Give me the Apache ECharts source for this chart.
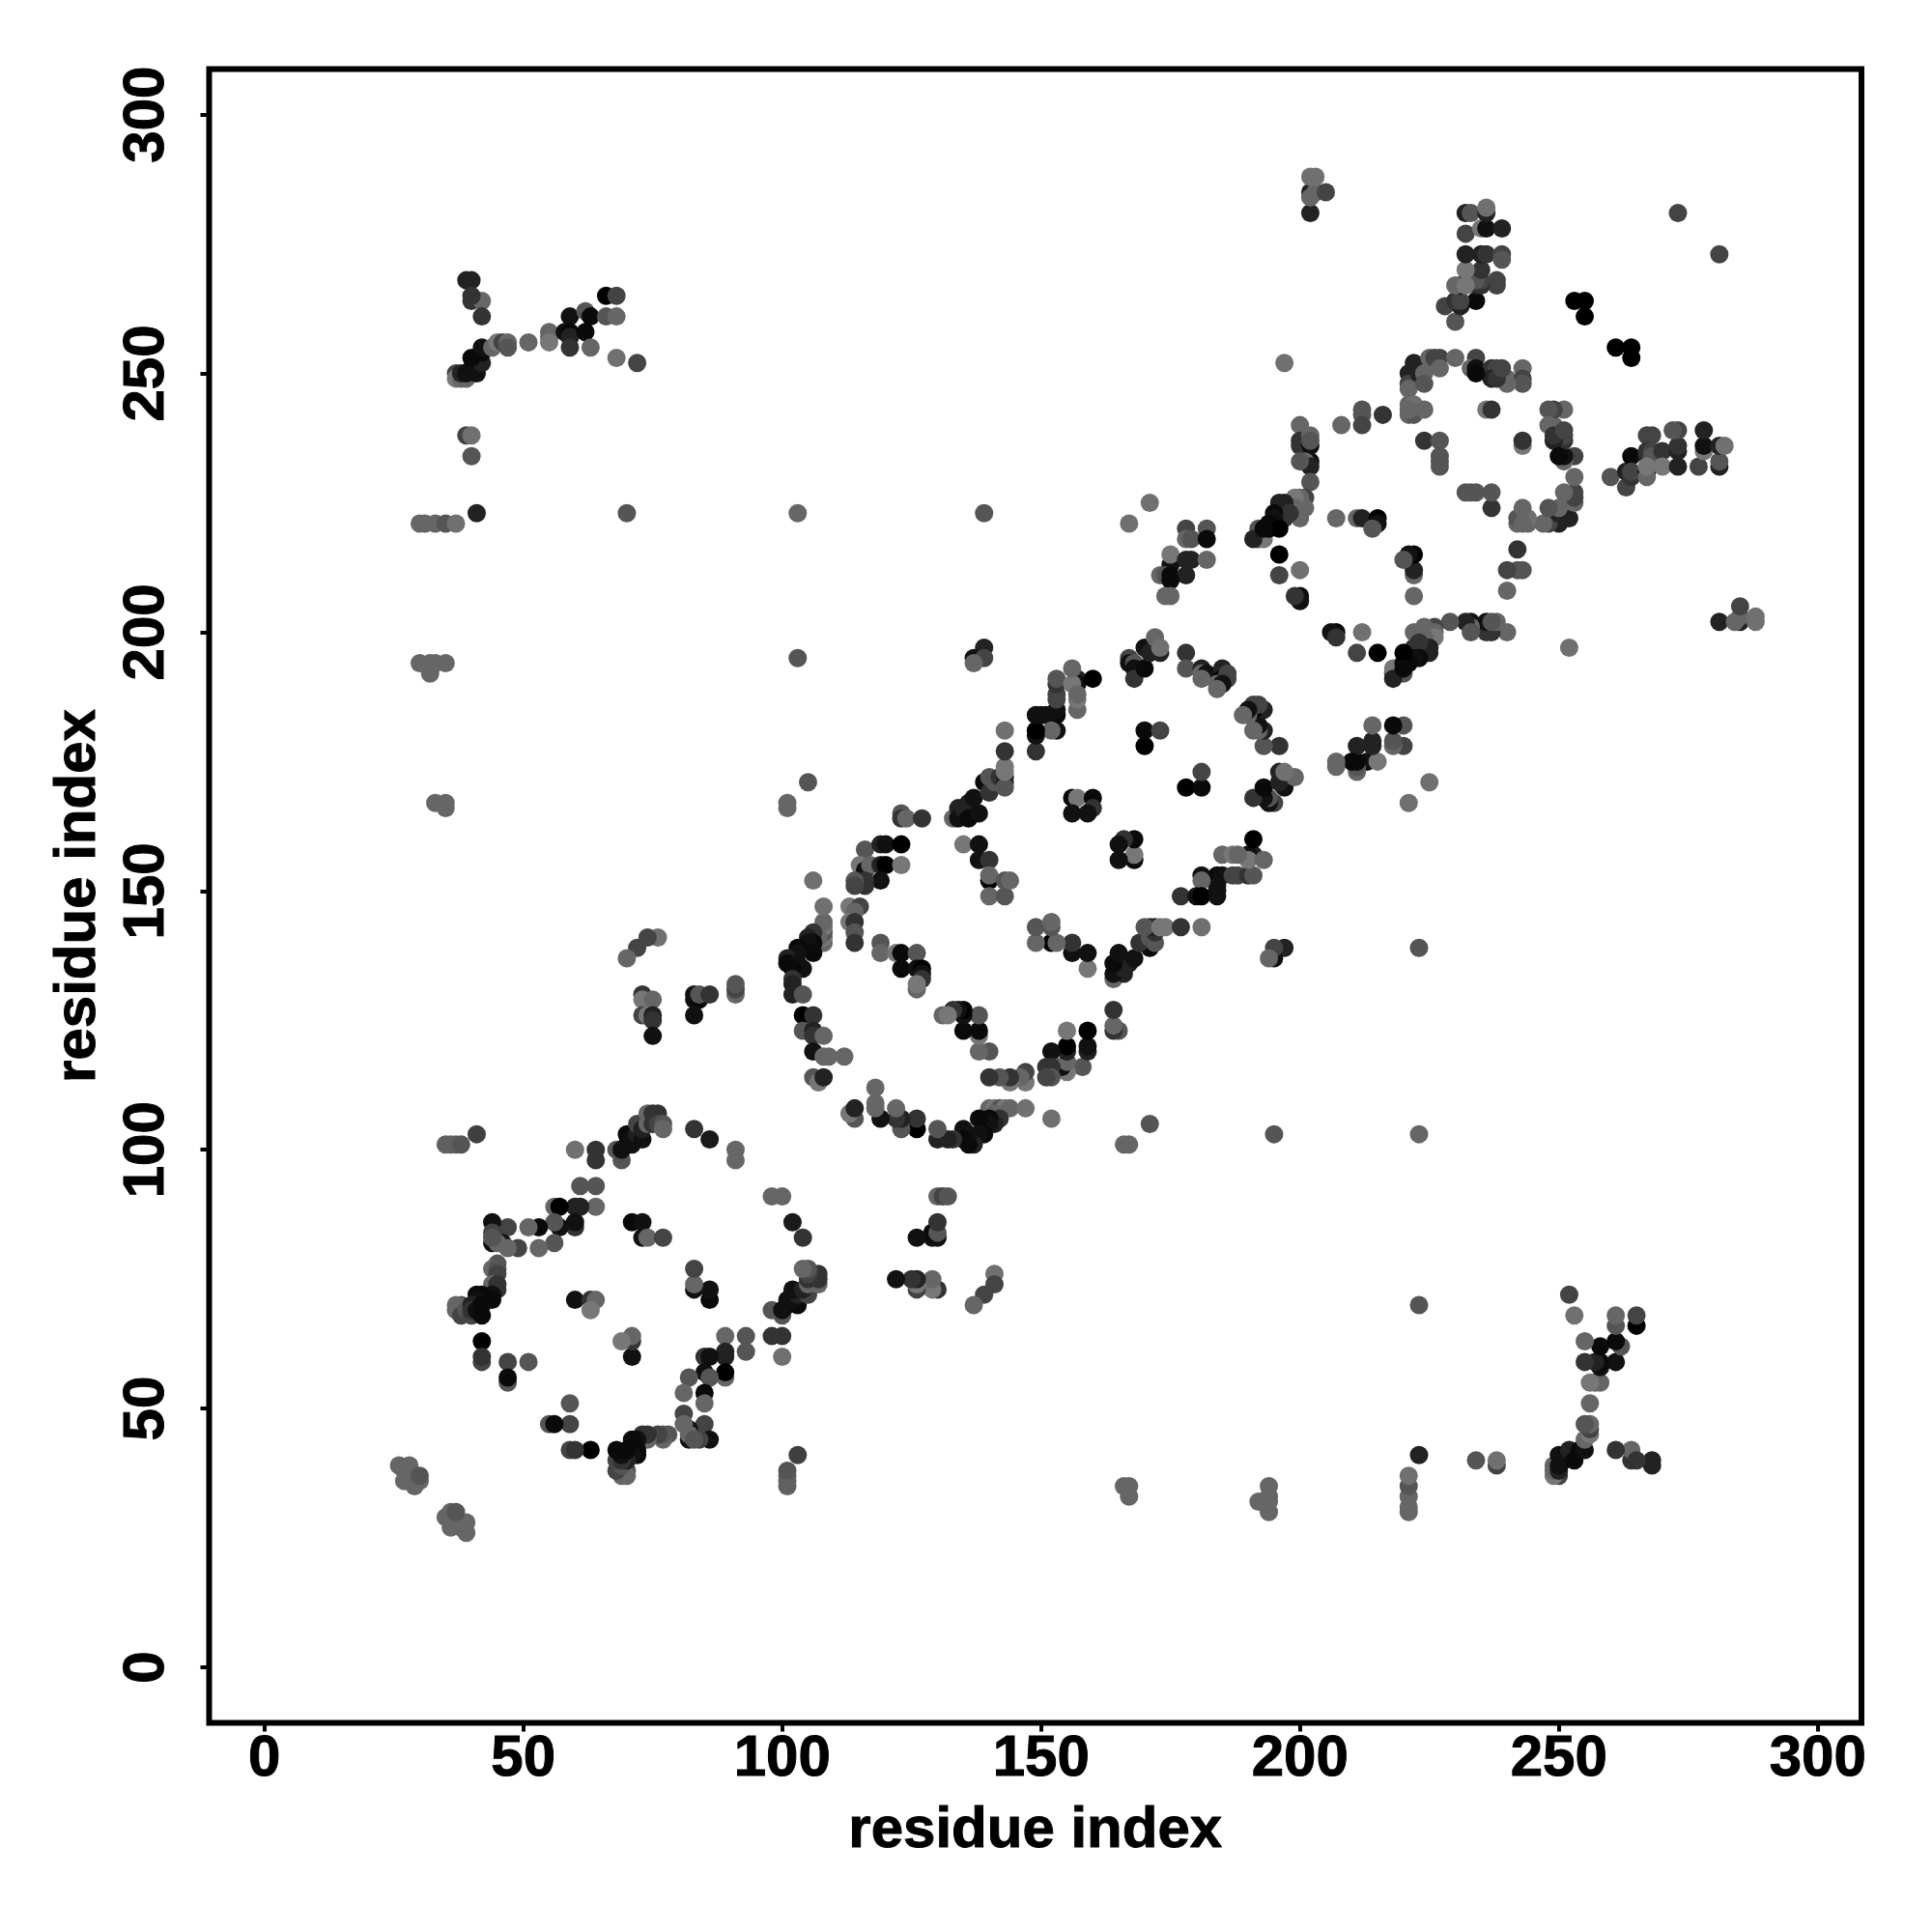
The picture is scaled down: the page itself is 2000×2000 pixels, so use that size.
<!DOCTYPE html>
<html>
<head>
<meta charset="utf-8">
<style>html,body{margin:0;padding:0;background:#fff}#c{width:2000px;height:2000px}</style>
<script src="https://cdn.jsdelivr.net/npm/echarts@6/dist/echarts.min.js"></script>
</head>
<body>
<div id="c"></div>
<script>
// Each contact: residue i, residue j, grey level (0 = black). The map is symmetric.
const tickLabels = [0, 50, 100, 150, 200, 250, 300];
const axisTitle = "residue index";

const cornerContacts = [
[26,39,102],[28,39,102],[27,36,102],[27,38,102],[28,38,102],[28,36,102],[29,35,102],[29,36,102],[30,36,102],[30,37,85]
];
const farContacts = [
[41,103,64],[35,101,96],[36,101,96],[37,101,96],[38,101,85],
[103,195,85],[103,223,102],[139,223,85],[70,223,85],[41,223,34],
[30,221,102],[31,221,102],[33,221,102],[35,221,85],[37,221,112],
[30,194,102],[32,194,102],[33,194,102],[35,194,102],[32,192,102],
[33,167,102],[35,167,102],[35,166,102],[101,166,102],[101,167,102],[105,171,85],[106,152,112],
[171,225,112],[167,221,112],[197,252,112]
];
const armTopLeft = [
[39,268,34],[40,268,34],[40,264,51],[42,264,102],[42,261,51],[40,265,51],
[37,250,68],[37,249,119],[38,249,102],[39,249,102],[38,250,34],[39,250,17],[41,250,17],[40,251,17],
[42,252,34],[40,253,10],[42,254,10],[42,255,17],[44,255,102],[45,256,119],[46,256,68],[47,256,102],[47,255,85],
[51,256,102],[55,258,102],[55,257,102],[55,256,119],[59,261,17],[58,258,17],[59,258,10],[59,257,34],[59,255,51],
[62,262,85],[63,261,10],[62,258,10],[63,255,102],[66,265,0],[68,265,68],[66,261,85],[68,261,102],[68,253,112],[72,252,68],
[39,238,68],[40,238,112],[40,234,85]
];
const ringOne = [
[83,104,51],[86,102,26],[91,100,102],[91,98,102],[64,100,51],[64,98,51],[60,100,112],
[69,98,85],[68,100,85],[69,100,17],[70,101,17],[70,103,10],[71,101,17],[71,102,17],[72,103,34],[73,102,17],
[72,105,68],[73,104,34],[74,105,102],[74,107,102],[75,107,51],[76,107,51],[75,105,51],[76,105,68],[77,105,85],[77,104,102],
[61,93,85],[64,93,85],[64,89,102],[60,89,34],[61,89,34],[56,89,102],[57,89,0],[60,85,51],[60,86,17],[57,85,17],
[56,86,85],[56,82,85],[53,81,102],[53,85,10],[51,85,102],[49,81,68],[47,85,68],[44,86,17],[44,84,68],[44,82,17],
[46,82,17],[45,82,102],[44,83,85],[47,81,102],
[45,78,85],[44,77,102],[45,77,85],[45,76,68],[44,74,102],[45,74,51],[45,73,51],[44,72,17],[41,72,10],[42,72,10],
[43,71,10],[44,71,10],[41,71,17],[38,70,85],[37,70,102],[37,69,102],[38,68,68],[39,69,85],[40,68,68],[40,70,34],[40,69,51],[41,69,17],[42,70,10],[42,68,10],
[42,63,0],[42,59,68],[42,60,51],[47,59,68],[51,59,85],[47,55,85],[47,56,10],
[71,86,10],[73,86,17],[73,83,17],[74,83,102],[77,83,68],[60,71,17],[63,71,51],[64,71,102],[63,69,119]
];
const bridgeOneTwo = [
[76,141,112],[74,141,68],[72,139,68],[70,137,102],
[73,130,51],[73,129,119],[75,129,102],[73,126,68],[74,126,119],[75,126,34],[75,125,51],[75,122,17],
[83,130,17],[83,129,17],[84,129,10],[84,130,85],[86,130,51],[83,126,17],[91,130,102],[91,131,68],[91,132,85]
];
const ringTwo = [
[108,140,102],[108,141,119],[108,142,85],[108,143,119],[108,144,102],[108,147,112],[107,141,102],[106,142,51],[105,141,34],[106,140,10],[105,140,17],
[106,138,10],[103,139,10],[103,138,17],[102,137,17],[101,137,34],[101,136,10],[103,136,17],[104,135,17],[102,135,10],
[102,133,51],[102,132,34],[102,130,34],[104,130,85],[104,126,0],[106,126,51],[104,123,85],[106,123,34],[106,122,51],[108,122,102],
[106,119,17],[108,118,102],[109,118,102],[112,118,102],[106,114,85],[107,113,119],[108,114,34],
[116,158,85],[115,155,119],[116,154,17],[117,155,102],[119,159,34],[120,159,17],[123,159,0],[119,155,34],[120,155,0],[123,155,119],
[119,152,17],[116,152,51],[116,151,51],[114,152,85],[114,151,68],[113,147,119],[115,147,68],[114,146,102],[113,144,119],[114,144,51],[114,142,85],[114,140,51],
[119,140,85],[119,138,102],[122,138,119],[123,138,10],[126,138,85],[123,135,10],[126,135,17],[127,135,0],[127,134,17],[127,133,51],[126,131,102],[126,132,119],
[123,165,85],[123,164,51],[124,164,102],[127,164,51],
[133,164,102],[134,166,34],[134,164,17],[135,166,34],[136,167,34],[136,164,10],[137,168,17],[138,165,17],[139,171,10],[140,169,51],[140,172,85],[141,171,85],
[142,172,51],[143,172,34],[143,171,34],[143,170,85],[143,173,119],[143,174,119],[143,177,51],[143,181,112],
[135,159,119],[138,159,17],[138,156,17],[140,156,51],[140,152,0],[140,153,102],[140,149,102],[143,149,85],[143,152,85],[144,152,102],
[156,168,10],[157,168,119],[160,168,10],[160,166,51],[156,165,17],[159,165,17],
[170,178,0],[170,181,10],[173,181,68],
[157,185,102],[157,187,119],[153,181,17],[153,184,10],[153,185,17],[153,187,68],[151,184,17],[152,181,102],
[149,177,51],[149,180,17],[149,181,0],[149,184,17],[150,184,17],[153,188,68],[153,190,51],[153,191,85],
[157,191,34],[157,190,17],[156,190,119],[156,193,102],[157,188,102],[160,191,0],
[167,195,68],[167,194,17],[168,194,85],[168,193,17],[168,191,51],[170,193,10],[170,197,17],[171,196,34],[173,196,34],[172,199,102],[173,197,112],
[178,196,51],[178,193,85],[181,193,34],[181,192,102],[182,192,17],[185,193,34],[185,191,0],[186,192,68],[184,190,102],
[186,191,68],[185,190,17],[184,189,102],[181,191,102],
[139,197,34],[137,195,17],[139,195,68],[137,194,102]
];
const bridgeTwoThree = [
[178,220,68],[182,220,85],[178,218,102],[179,218,85],[182,218,10],[175,213,17],[175,215,119],[178,214,34],[179,214,34],[182,214,102],
[173,211,102],[174,211,85],[175,211,10],[178,211,34],[175,210,10],[174,207,102],[175,207,102]
];
const ringThree = [
[200,240,102],[200,237,51],[200,236,51],[202,238,102],[202,236,17],[202,233,17],[201,233,102],[202,232,34],[202,229,85],
[200,233,85],[202,237,85],
[201,226,68],[201,224,102],[200,226,102],[200,222,102],[199,226,119],[199,224,102],[197,225,34],[196,225,34],[197,223,34],[197,222,51],[198,223,51],
[192,220,85],[192,218,85],[193,218,119],[191,218,34],[195,223,10],[195,222,17],[194,221,10],[194,220,10],[196,220,0],[193,220,10],
[196,215,0],[200,212,112],[196,211,68],[200,207,10],[200,206,17],[199,207,51],
[207,222,102],[211,222,102],[212,222,34],[215,222,0],[215,221,17],[214,220,85],
[208,240,102],[212,243,85],[212,242,85],[212,240,68],[216,242,51],
[221,250,34],[221,248,68],[221,247,102],[222,252,34],[223,250,34],[224,250,102],[225,253,102],[226,253,68],[227,253,68],[227,251,102],[230,253,102],
[234,253,68],[233,251,102],[234,251,17],[237,251,51],[238,251,68],[237,249,34],[240,249,102],[243,251,102],[243,249,68],
[221,244,102],[221,242,102],[222,242,85],[222,244,112],[224,243,102],[221,243,102],
[224,237,51],[227,237,85],[227,234,85],[227,233,85],[227,232,85],
[236,243,119],[237,243,51],[243,248,85],[240,248,102],[238,249,51],[239,251,68],[234,250,10],[224,248,85]
];
const armTopRight = [
[230,260,85],[228,263,68],[231,263,34],[234,264,10],[230,264,51],[231,264,68],[238,267,68],[238,268,68],[231,267,0],[234,267,34],[235,267,51],[235,268,68],[234,268,85],
[230,267,102],[232,267,119],[235,270,51],[232,270,119],[232,273,34],[235,273,34],[236,273,51],[239,273,68],[239,272,85],
[232,277,68],[235,278,119],[236,278,17],[239,278,34],[232,281,34],[233,281,85],[236,281,34],[236,282,112],
[202,281,34],[202,285,34],[202,284,102],[203,285,102],[205,285,68],[202,288,112],[203,288,112],
[253,264,0],[255,264,0],[255,261,0],[273,281,68]
];

const allContacts = [cornerContacts, farContacts, armTopLeft, ringOne, bridgeOneTwo, ringTwo, bridgeTwoThree, ringThree, armTopRight].flat();

const points = [];
allContacts.forEach(function (c) {
  const colour = "rgb(" + c[2] + "," + c[2] + "," + c[2] + ")";
  points.push({ value: [c[0], c[1]], itemStyle: { color: colour } });
  points.push({ value: [c[1], c[0]], itemStyle: { color: colour } });
});

const font = { fontFamily: "Liberation Sans", fontWeight: "bold", fontSize: 60, color: "#000", textBorderColor: "#000", textBorderWidth: 1 };

function makeAxis(min, max, nameGap, labelRotate, labelMargin) {
  return {
    type: "value", min: min, max: max,
    name: axisTitle, nameLocation: "middle", nameGap: nameGap, nameRotate: labelRotate,
    nameTextStyle: font,
    splitLine: { show: false },
    axisLine: { show: false, onZero: false },
    axisTick: { show: true, length: 9, customValues: tickLabels, lineStyle: { color: "#000", width: 4 } },
    axisLabel: Object.assign({ show: true, rotate: labelRotate, margin: labelMargin, customValues: tickLabels, hideOverlap: false, showMinLabel: true, showMaxLabel: true }, font)
  };
}

const chart = echarts.init(document.getElementById("c"), null, { renderer: "canvas", width: 2000, height: 2000 });
chart.setOption({
  animation: false,
  backgroundColor: "#fff",
  grid: { show: true, left: 216.5, top: 71.5, width: 1710.5, height: 1712, borderColor: "#000", borderWidth: 6, backgroundColor: "transparent" },
  xAxis: makeAxis(-10.67, 308.45, 82, 0, 8),
  yAxis: makeAxis(-10.73, 308.8, 105, 90, 34),
  series: [{ type: "scatter", symbol: "circle", symbolSize: 19, data: points, clip: false, itemStyle: { opacity: 1 } }]
});
</script>
</body>
</html>
